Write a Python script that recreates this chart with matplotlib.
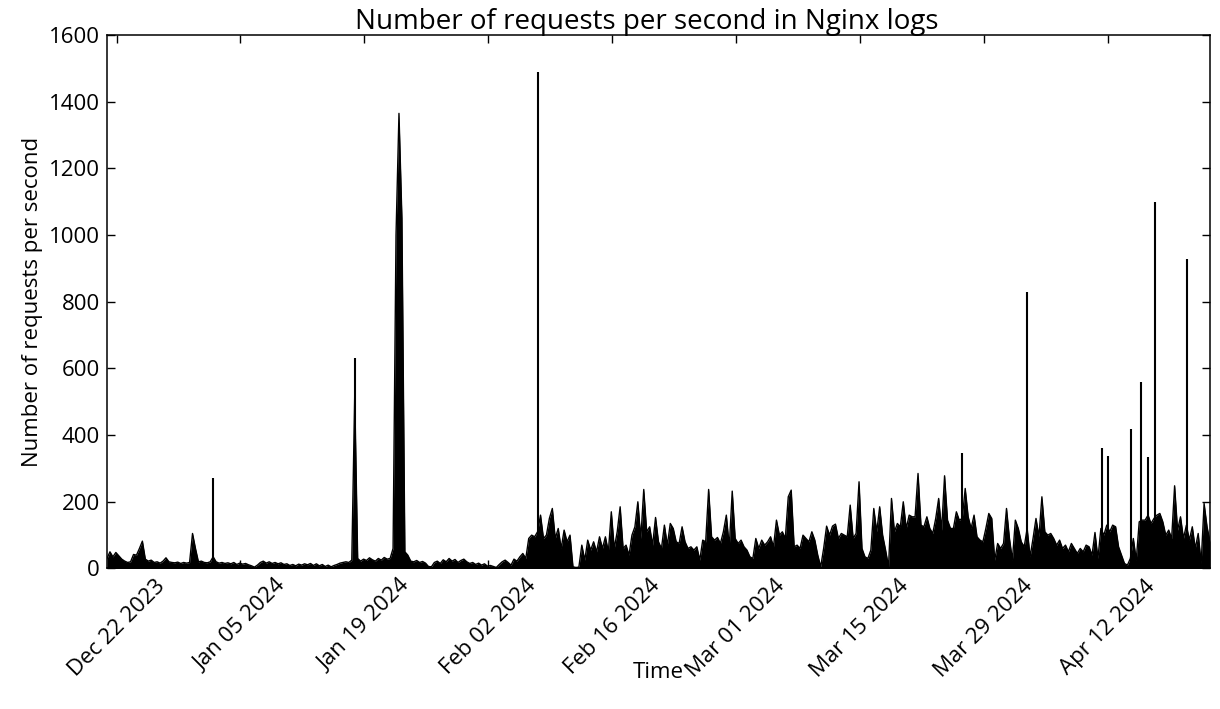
import matplotlib
matplotlib.use("Agg")
import matplotlib.pyplot as plt
import matplotlib.dates as mdates
import pandas as pd

# requests per second, one reading every 8 hours starting at START
START = "2023-12-20 22:00"
STEP = "8h"
req_per_sec = [
    30, 50, 35, 48, 38, 28, 22, 18, 20, 42, 40,
    60, 82, 28, 22, 25, 18, 20, 16, 22, 32,
    20, 18, 17, 19, 15, 18, 16, 18, 105, 60,
    20, 22, 18, 17, 20, 35, 20, 16, 18, 15,
    17, 14, 18, 12, 16, 13, 15, 11, 8, 4,
    10, 18, 22, 16, 20, 15, 18, 14, 17, 12,
    14, 9, 12, 8, 13, 10, 14, 11, 15, 9,
    14, 8, 12, 6, 10, 5, 9, 12, 16, 18,
    20, 18, 25, 520, 30, 22, 28, 24, 32, 26,
    22, 30, 25, 33, 28, 30, 60, 1000, 1365, 1050, 50,
    40, 22, 20, 24, 18, 21, 16, 6, 5,
    18, 22, 15, 26, 20, 30, 22, 27, 18, 24,
    28, 20, 15, 18, 12, 16, 10, 14, 7, 9,
    6, 3, 12, 20, 25, 18, 10, 28, 22, 35,
    45, 30, 90, 100, 95, 110, 160, 90, 100, 150,
    180, 90, 120, 60, 115, 80, 100, 5, 3, 4,
    70, 25, 85, 55, 80, 50, 95, 60, 95, 50,
    170, 60, 110, 185, 60, 70, 40, 100, 125, 200,
    90, 237, 110, 125, 70, 153, 80, 60, 130, 70,
    135, 120, 80, 75, 125, 80, 60, 65, 55, 65,
    25, 85, 80, 237, 95, 85, 93, 75, 110, 160,
    65, 232, 90, 75, 85, 65, 55, 35, 30, 90,
    60, 85, 70, 80, 95, 65, 145, 100, 110, 90,
    215, 235, 65, 70, 60, 100, 90, 80, 110, 85,
    40, 5, 60, 127, 100, 127, 133, 90, 105, 100,
    95, 190, 90, 105, 260, 60, 35, 30, 55, 180,
    110, 185, 100, 55, 5, 210, 110, 135, 125, 200,
    120, 160, 155, 155, 285, 130, 125, 155, 120, 105,
    150, 210, 115, 278, 145, 120, 120, 170, 145, 150,
    240, 155, 120, 160, 95, 85, 80, 120, 165, 150,
    25, 75, 60, 75, 180, 90, 25, 145, 120, 80,
    65, 120, 35, 90, 150, 95, 215, 110, 100, 105,
    90, 70, 85, 60, 70, 50, 75, 60, 45, 60,
    50, 70, 65, 40, 108, 30, 120, 100, 130, 110,
    130, 125, 65, 40, 15, 10, 30, 90, 25, 140,
    145, 145, 160, 135, 150, 160, 165, 140, 100, 115,
    90, 248, 115, 155, 90, 130, 85, 125, 60, 105, 15, 195, 125, 80,
]

# short bursts that stick out of the 8-hourly readings
spike_times = [
    "2024-01-01 22:00", "2024-01-17 22:00", "2024-02-07 15:00",
    "2024-03-26 14:30", "2024-04-02 21:00", "2024-04-11 10:00",
    "2024-04-12 00:00", "2024-04-14 17:00", "2024-04-15 17:30",
    "2024-04-16 12:30", "2024-04-17 07:30", "2024-04-20 22:30",
]
spike_peaks = [272, 632, 1490, 345, 830, 360, 338, 418, 560, 335, 1100, 928]

tick_dates = pd.date_range("2023-12-22", "2024-04-12", freq="14D")

plt.rcParams["font.family"] = ["Open Sans", "DejaVu Sans"]

times = pd.date_range(START, periods=len(req_per_sec), freq=STEP)

fig = plt.figure(figsize=(12.2, 7.09), dpi=100)
ax = fig.add_axes([0.0877, 0.1982, 0.9041, 0.7524])

ax.fill_between(times, 0, req_per_sec, color="black", lw=0)
ax.plot(times, req_per_sec, color="black", lw=1)
ax.vlines(pd.to_datetime(spike_times), 0, spike_peaks, color="black", lw=1.5)

ax.set_xlim(times[0], times[-1])
ax.set_ylim(0, 1600)
ax.set_xticks(tick_dates)
ax.xaxis.set_major_formatter(mdates.DateFormatter("%b %d %Y"))
plt.setp(ax.get_xticklabels(), rotation=45, ha="center")
ax.tick_params(direction="in", top=True, right=True, length=5.8, width=1,
               labelsize=16, pad=5)
for s in ax.spines.values():
    s.set_linewidth(1.1)

ax.set_title("Number of requests per second in Nginx logs", fontsize=20, pad=4, x=0.489)
ax.set_xlabel("Time", fontsize=16, labelpad=-14)
ax.set_ylabel("Number of requests per second", fontsize=16)

fig.savefig("out.png", dpi=100)
